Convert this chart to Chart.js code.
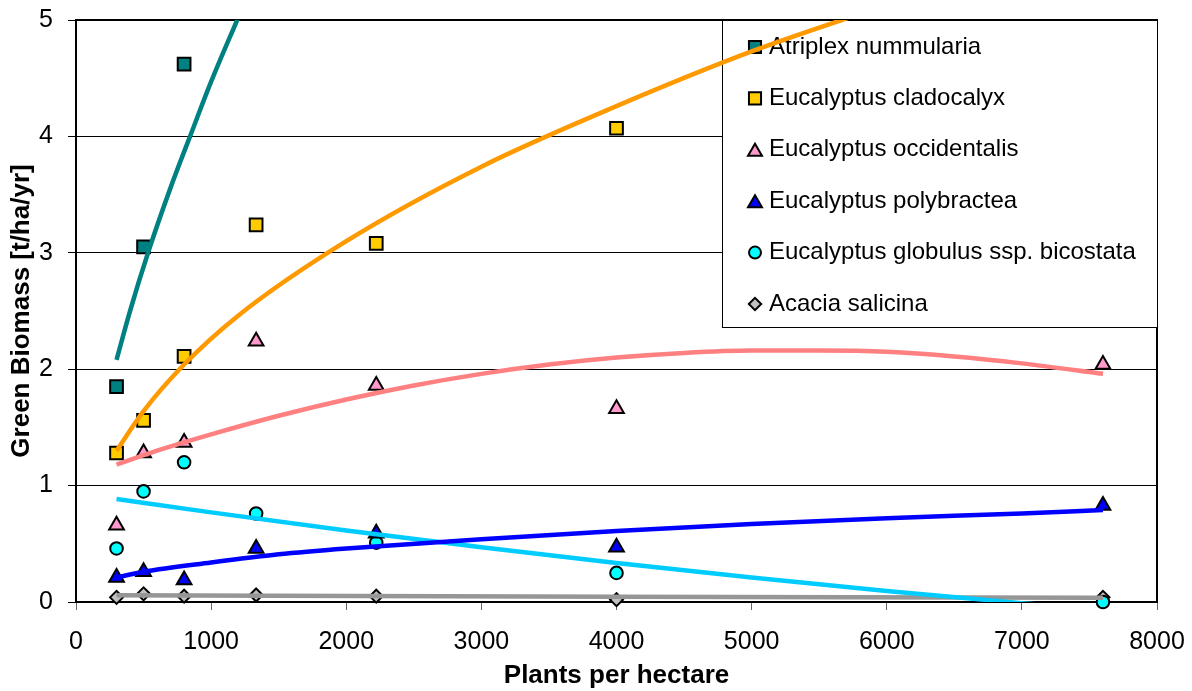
<!DOCTYPE html>
<html>
<head>
<meta charset="utf-8">
<script src="https://cdn.jsdelivr.net/npm/chart.js@4.4.0/dist/chart.umd.min.js"></script>
<style>
  html, body { margin: 0; padding: 0; background: #fff; }
  #wrap { width: 1192px; height: 691px; }
</style>
</head>
<body>
<div id="wrap"><canvas id="biomassChart" width="1192" height="691"></canvas></div>
<script>
// Green biomass vs planting density, with fitted trend lines per species

const FONT = "'Liberation Sans', Arial, sans-serif";

const species = [
  'Atriplex nummularia',
  'Eucalyptus cladocalyx',
  'Eucalyptus occidentalis',
  'Eucalyptus polybractea',
  'Eucalyptus globulus ssp. bicostata',
  'Acacia salicina'
];

// plants per hectare
const density = [300, 500, 800, 1333, 2222, 4000, 7600];

// measured green biomass, t/ha/yr
const atriplex     = [1.85, 3.05, 4.62];
const cladocalyx   = [1.28, 1.56, 2.11, 3.24, 3.08, 4.07];
const occidentalis = [0.66, 1.28, 1.37, 2.24, 1.86, 1.66, 2.04];
const polybractea  = [0.21, 0.26, 0.19, 0.46, 0.59, 0.47, 0.83];
const globulus     = [0.46, 0.95, 1.20, 0.76, 0.51, 0.25, 0.00];
const salicina     = [0.04, 0.07, 0.05, 0.06, 0.05, 0.02, 0.04];

// trend lines
const atriplexFitX = [300, 400, 533, 700, 844, 1000, 1193, 1300];
const atriplexFitY = [2.08, 2.50, 3.00, 3.56, 4.00, 4.47, 5.00, 5.29];

const cladocalyxFitX = [300, 500, 800, 1200, 2000, 3000, 4000, 5000, 6000];
const cladocalyxFitY = [1.30, 1.64, 2.04, 2.46, 3.10, 3.74, 4.26, 4.73, 5.13];

const occidentalisFitX = [300, 600, 1000, 1500, 2000, 2500, 3000, 3500, 4000, 4500, 5000, 5500, 6000, 6500, 7000, 7600];
const occidentalisFitY = [1.18, 1.30, 1.44, 1.60, 1.74, 1.86, 1.96, 2.04, 2.10, 2.14, 2.16, 2.16, 2.15, 2.11, 2.05, 1.96];

const polybracteaFitX = [300, 500, 1000, 1500, 2000, 3000, 4000, 5000, 6000, 7000, 7600];
const polybracteaFitY = [0.21, 0.26, 0.34, 0.41, 0.46, 0.54, 0.61, 0.67, 0.72, 0.76, 0.79];

const globulusFitX = [300, 1000, 2000, 3000, 4000, 5000, 6000, 7000, 7600];
const globulusFitY = [0.885, 0.77, 0.615, 0.47, 0.335, 0.21, 0.095, -0.01, -0.065];

const salicinaFitX = [300, 4000, 7600];
const salicinaFitY = [0.058, 0.045, 0.036];

const xTicks = [0, 1000, 2000, 3000, 4000, 5000, 6000, 7000, 8000];

const toPoints = (xs, ys) => ys.map((y, i) => ({ x: xs[i], y: y }));

const markerStyles = [
  { pointStyle: 'rect',     radius: 9,   fill: '#008080', line: '#008080' },
  { pointStyle: 'rect',     radius: 9,   fill: '#FFCC00', line: '#FF9900' },
  { pointStyle: 'triangle', radius: 8.5, fill: '#FF99CC', line: '#FF8080' },
  { pointStyle: 'triangle', radius: 8.5, fill: '#0000FF', line: '#0000FF' },
  { pointStyle: 'circle',   radius: 6.3, fill: '#00FFFF', line: '#00CCFF' },
  { pointStyle: 'rectRot',  radius: 6.5, fill: '#C0C0C0', line: '#969696' }
];

const measured = [atriplex, cladocalyx, occidentalis, polybractea, globulus, salicina];
const fits = [
  [atriplexFitX, atriplexFitY],
  [cladocalyxFitX, cladocalyxFitY],
  [occidentalisFitX, occidentalisFitY],
  [polybracteaFitX, polybracteaFitY],
  [globulusFitX, globulusFitY],
  [salicinaFitX, salicinaFitY]
];

const datasets = [];
species.forEach((name, i) => {
  const m = markerStyles[i];
  datasets.push({
    type: 'scatter',
    label: name,
    data: toPoints(density, measured[i]),
    pointStyle: m.pointStyle,
    pointRadius: m.radius,
    pointBackgroundColor: m.fill,
    pointBorderColor: '#000',
    pointBorderWidth: 2,
    showLine: false,
    clip: false,
    order: 2
  });
});
species.forEach((name, i) => {
  datasets.push({
    type: 'line',
    label: name + ' trend',
    data: toPoints(fits[i][0], fits[i][1]),
    borderColor: markerStyles[i].line,
    borderWidth: 4.5,
    pointRadius: 0,
    cubicInterpolationMode: 'monotone',
    fill: false,
    clip: 0,
    order: 1
  });
});

// legend box sits under the trend lines, over the grid
const legendBox = {
  id: 'legendBox',
  beforeDatasetsDraw(chart) {
    const ctx = chart.ctx;
    const a = chart.chartArea;
    ctx.save();
    ctx.strokeStyle = '#000';
    ctx.lineWidth = 2;
    ctx.beginPath();
    ctx.moveTo(a.left, a.top);
    ctx.lineTo(a.right, a.top);
    ctx.lineTo(a.right, a.bottom);
    ctx.stroke();

    const bx = 722, by = 20, bw = 436, bh = 308;
    ctx.fillStyle = '#fff';
    ctx.fillRect(bx, by, bw, bh);
    ctx.lineWidth = 1;
    ctx.strokeStyle = '#000';
    ctx.strokeRect(bx + 0.5, by + 0.5, bw - 1, bh - 1);

    ctx.font = '24px ' + FONT;
    ctx.textBaseline = 'middle';
    ctx.textAlign = 'left';
    species.forEach((name, i) => {
      const m = markerStyles[i];
      const y = 47 + i * 51.4;
      ctx.fillStyle = m.fill;
      ctx.strokeStyle = '#000';
      ctx.lineWidth = 2;
      Chart.helpers.drawPoint(ctx, {
        pointStyle: m.pointStyle,
        radius: m.radius * 0.95,
        borderWidth: 2,
        rotation: 0
      }, 755, m.pointStyle === 'triangle' ? y + 2 : y);
      ctx.fillStyle = '#000';
      ctx.fillText(name, 769, y);
    });
    ctx.restore();
  }
};

new Chart(document.getElementById('biomassChart'), {
  data: { datasets: datasets },
  options: {
    responsive: false,
    animation: false,
    layout: { padding: { top: 20, right: 35, left: 0, bottom: 0 } },
    plugins: {
      legend: { display: false },
      tooltip: { enabled: false }
    },
    scales: {
      x: {
        type: 'linear',
        min: 0,
        max: 8000,
        afterFit: (scale) => {
          scale.height = 89;
          scale.paddingLeft = 0;
          scale.paddingRight = 0;
        },
        afterBuildTicks: (scale) => { scale.ticks = xTicks.map(v => ({ value: v })); },
        ticks: {
          color: '#000',
          font: { family: FONT, size: 25 },
          padding: 17,
          maxRotation: 0,
          callback: (v) => String(v)
        },
        grid: {
          drawOnChartArea: false,
          tickLength: 8,
          tickColor: '#666'
        },
        border: { color: '#000', width: 2 },
        title: {
          display: true,
          text: 'Plants per hectare',
          color: '#000',
          font: { family: FONT, size: 26, weight: 'bold' },
          padding: { top: 0, bottom: 0 }
        }
      },
      y: {
        type: 'linear',
        min: 0,
        max: 5,
        afterFit: (scale) => {
          scale.width = 76;
          scale.paddingTop = 0;
          scale.paddingBottom = 0;
        },
        ticks: {
          stepSize: 1,
          color: '#000',
          font: { family: FONT, size: 25 },
          padding: 15
        },
        grid: {
          color: '#000',
          lineWidth: 1,
          tickLength: 8,
          tickColor: '#000'
        },
        border: { color: '#000', width: 2 },
        title: {
          display: true,
          text: 'Green Biomass [t/ha/yr]',
          color: '#000',
          font: { family: FONT, size: 26, weight: 'bold' },
          padding: { top: 6, bottom: 0 }
        }
      }
    }
  },
  plugins: [legendBox]
});
</script>
</body>
</html>
